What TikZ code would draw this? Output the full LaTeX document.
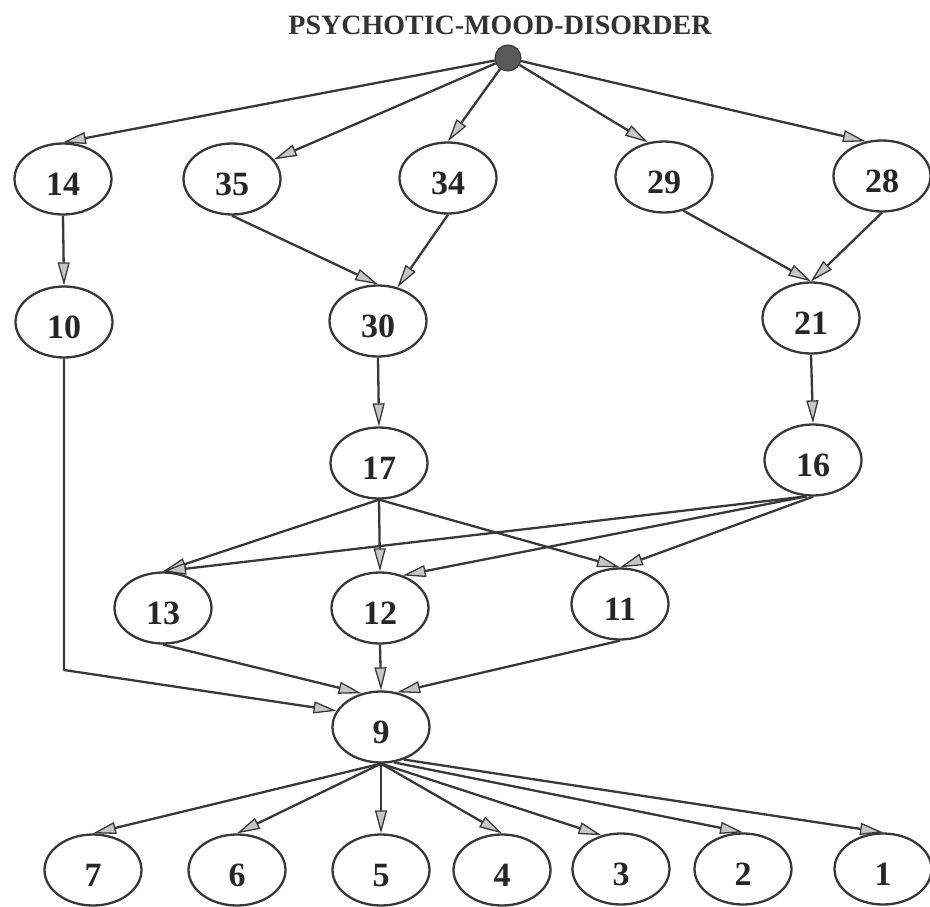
\documentclass[tikz,border=0pt]{standalone}
\usepackage{fontspec}
\setmainfont{Liberation Serif}
\usetikzlibrary{arrows.meta,shapes.geometric}
\begin{document}
\begin{tikzpicture}[x=1pt,y=-1pt,
  vertex/.style={ellipse, draw=black!78, line width=2.3pt,
    minimum width=97pt, minimum height=71pt, inner sep=0pt,
    font=\fontsize{34}{34}\selectfont\bfseries, text=black!85,
    text height=33pt, text depth=0pt},
  rootdot/.style={circle, draw=black!80, fill=black!65, line width=1pt,
    minimum size=26pt, inner sep=0pt},
  edge/.style={draw=black!78, line width=2.3pt, line join=round,
    -{Triangle[length=23pt,width=12pt,fill=gray!45,line width=1.3pt]}},
  heading/.style={font=\fontsize{28}{28}\selectfont\bfseries, text=black!80}
]
\useasboundingbox (0,0) rectangle (930,907);

% title and root
\node[heading, anchor=base] (title) at (500,35) {PSYCHOTIC-MOOD-DISORDER};
\node[rootdot] (root) at (508,58) {};

% first level
\node[vertex] (n14) at (63,179) {14};
\node[vertex] (n35) at (232,179) {35};
\node[vertex] (n34) at (448,178) {34};
\node[vertex] (n29) at (664,177) {29};
\node[vertex] (n28) at (882,176) {28};

% second level
\node[vertex] (n10) at (64,322) {10};
\node[vertex] (n30) at (378,321) {30};
\node[vertex] (n21) at (811,318) {21};

% third level
\node[vertex] (n17) at (379,463) {17};
\node[vertex] (n16) at (813,460) {16};

% fourth level
\node[vertex] (n13) at (163,608) {13};
\node[vertex] (n12) at (380,608) {12};
\node[vertex] (n11) at (620,604) {11};

% fifth level
\node[vertex] (n9) at (381,727) {9};

% leaves
\node[vertex] (n7) at (93,870) {7};
\node[vertex] (n6) at (237,870) {6};
\node[vertex] (n5) at (381,870) {5};
\node[vertex] (n4) at (502,870) {4};
\node[vertex] (n3) at (621,869) {3};
\node[vertex] (n2) at (743,869) {2};
\node[vertex] (n1) at (883,869) {1};

% bend of the long edge from 10 to 9
\coordinate (c10) at (64,670);

% root edges
\draw[edge] (root) -- (n14.north);
\draw[edge] (root) -- (n35.25);
\draw[edge] (root) -- (n34.north);
\draw[edge] (root) -- (n29.115);
\draw[edge] (root) -- (n28.115);

% upper part
\draw[edge] (n14.south) -- (n10.north);
\draw[edge] (n35.south) -- (n30.north);
\draw[edge] (n34.south) -- (n30.60);
\draw[edge] (n29.-60) -- (n21.north);
\draw[edge] (n28.south) -- (n21.north);
\draw[edge] (n30.south) -- (n17.north);
\draw[edge] (n21.south) -- (n16.north);

% middle part
\draw[edge] (n17.south) -- (n13.north);
\draw[edge] (n17.south) -- (n12.north);
\draw[edge] (n17.south) -- (n11.north);
\draw[edge] (n16.-100) -- (n13.north);
\draw[edge] (n16.-100) -- (n12.55);
\draw[edge] (n16.south) -- (n11.north);

% into 9
\draw[edge] (n10.south) -- (c10) -- (n9.160);
\draw[edge] (n13.south) -- (n9.120);
\draw[edge] (n12.south) -- (n9.north);
\draw[edge] (n11.south) -- (n9.65);

% leaves
\draw[edge] (n9.south) -- (n7.north);
\draw[edge] (n9.south) -- (n6.north);
\draw[edge] (n9.south) -- (n5.north);
\draw[edge] (n9.south) -- (n4.north);
\draw[edge] (n9.south) -- (n3.120);
\draw[edge] (n9.-70) -- (n2.north);
\draw[edge] (n9.-55) -- (n1.north);
\end{tikzpicture}
\end{document}
